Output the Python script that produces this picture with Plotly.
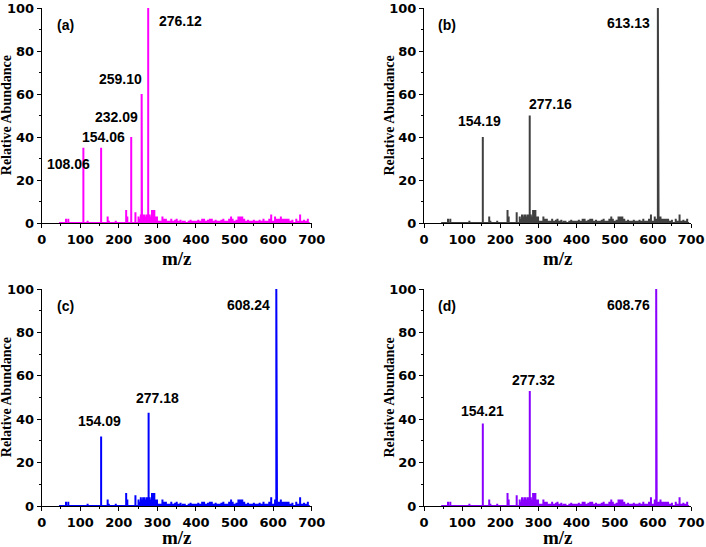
import plotly.graph_objects as go

# ---------------- data ----------------
noise_mz = [63, 69, 119, 171, 174, 192, 219, 222, 243, 251, 254, 257, 260, 263, 266, 269, 272,
            280, 283, 286, 289, 292, 295, 299,
            303, 308, 313, 318, 322, 327, 331, 336, 341, 346,
            350, 355, 360, 366, 371, 376, 381, 386, 391, 396,
            401, 406, 411, 416, 421, 426, 431, 436, 441, 446,
            451, 456, 461, 466, 471, 476, 481, 486, 491, 495,
            500, 505, 510, 515, 520, 525, 530, 535, 540, 545,
            550, 555, 560, 565, 570, 575, 580, 585, 590, 595,
            600, 605, 610, 615, 620, 625, 630, 635, 640, 645,
            650, 655, 660, 665, 670, 675, 680, 685, 690]
noise_int = [2, 2, 1, 3, 1, 1, 6, 3, 5, 3, 2, 4, 3, 4, 4, 3, 4,
             4, 3, 6, 6, 6, 3, 3,
             1, 1, 3, 2, 2, 1, 1, 2, 1, 1.5,
             2, 1, 1.5, 1, 1, 0.5, 1, 1.5, 1, 1,
             1, 1.5, 1, 2, 2, 1, 1.5, 2, 2, 1,
             1.5, 1, 1, 1.5, 2, 1, 1, 2, 3, 2,
             1, 1.5, 3, 3, 3, 2, 1, 1.5, 1, 1,
             1.5, 1, 1, 1.5, 1, 2, 1, 1, 2, 4,
             1, 3, 2, 2, 3, 2, 2, 2, 2, 1,
             1.5, 0.5, 2, 1, 4, 1, 1.5, 1, 2]
assert len(noise_mz) == len(noise_int)

baseline_range = [45, 695]

peaks_a_mz = [108.06, 154.06, 232.09, 259.10, 276.12]
peaks_a_int = [35, 35, 40, 60, 100]
peaks_b_mz = [154.19, 277.16, 613.13]
peaks_b_int = [40, 50, 100]
peaks_c_mz = [154.09, 277.18, 608.24]
peaks_c_int = [32, 43, 100]
peaks_d_mz = [154.21, 277.32, 608.76]
peaks_d_int = [38, 53, 100]

panel_tags = ["(a)", "(b)", "(c)", "(d)"]
x_ticks = [0, 100, 200, 300, 400, 500, 600, 700]
y_ticks = [0, 20, 40, 60, 80, 100]

# ---------------- layout / style ----------------
colors = ["#FF00FF", "#404040", "#0000FF", "#8A00FF"]
W, H = 706, 547
# plot areas in pixels: (x0, x1, ytop, ybottom)
areas = [(41.7, 311.7, 8, 223), (424, 691, 8, 223),
         (41.7, 311.7, 289, 506), (424, 691, 289, 506)]
title_gap = [35, 35, 31, 31]
# label positions (data coords) per panel
label_pos = [
    [(70, 27.5), (160, 39.8), (195, 49.3), (203, 67.1), (361, 93.9)],
    [(146, 47.5), (332, 55.4), (537, 92.8)],
    [(150, 39.3), (301, 49.6), (537, 92.5)],
    [(153, 43.9), (287, 58.0), (537, 92.5)],
]

peaks = [(peaks_a_mz, peaks_a_int), (peaks_b_mz, peaks_b_int),
         (peaks_c_mz, peaks_c_int), (peaks_d_mz, peaks_d_int)]

tick_font = dict(family="DejaVu Sans", size=13, color="black", weight="bold")
lab_font = dict(family="Liberation Sans, Arial", size=14, color="black", weight="bold")
title_font_x = dict(family="Liberation Serif, Times New Roman", size=19, color="black", weight="bold")
title_font_y = dict(family="Liberation Serif, Times New Roman", size=14, color="black", weight="bold")

fig = go.Figure()
annotations = []

for i in range(4):
    pm, pi = peaks[i]
    spec = sorted(list(zip(noise_mz, noise_int)) + list(zip(pm, pi)))
    xs = [baseline_range[0]]
    ys = [0]
    for m, h in spec:
        xs += [m, m, m]
        ys += [0, h, 0]
    xs.append(baseline_range[1])
    ys.append(0)
    sfx = "" if i == 0 else str(i + 1)
    fig.add_trace(go.Scatter(x=xs, y=ys, mode="lines",
                             line=dict(color=colors[i], width=2),
                             xaxis="x" + sfx, yaxis="y" + sfx,
                             showlegend=False, hoverinfo="skip", cliponaxis=False))
    x0, x1, yt, yb = areas[i]
    dom_x = [x0 / W, x1 / W]
    dom_y = [1 - yb / H, 1 - yt / H]
    axis_common = dict(showline=True, linecolor="black", linewidth=1,
                       ticks="outside", ticklen=4, tickcolor="black",
                       showgrid=False, zeroline=False, tickfont=tick_font,
                       automargin=False, ticklabeloverflow="allow")
    fig.layout["xaxis" + sfx] = dict(domain=dom_x, range=[0, 700], tickvals=x_ticks,
                                     anchor="y" + sfx,
                                     minor=dict(ticks="outside", ticklen=2, dtick=50, tickcolor="black"),
                                     **axis_common)
    fig.layout["yaxis" + sfx] = dict(domain=dom_y, range=[0, 100], tickvals=y_ticks,
                                     anchor="x" + sfx,
                                     minor=dict(ticks="outside", ticklen=2, dtick=10, tickcolor="black"),
                                     **axis_common)
    xr = "x" + sfx
    yr = "y" + sfx
    # panel tag
    annotations.append(dict(x=61, y=92.3, xref=xr, yref=yr, text=panel_tags[i],
                            showarrow=False, font=lab_font, xanchor="center", yanchor="middle"))
    for (lx, ly), m in zip(label_pos[i], pm):
        annotations.append(dict(x=lx, y=ly, xref=xr, yref=yr, text=f"{m:.2f}",
                                showarrow=False, font=lab_font, xanchor="center", yanchor="middle"))
    # axis titles
    annotations.append(dict(x=(x0 + x1) / 2 / W, y=1 - (yb + title_gap[i]) / H, xref="paper", yref="paper",
                            text="m/z", showarrow=False, font=title_font_x,
                            xanchor="center", yanchor="middle"))
    annotations.append(dict(x=(x0 - 35) / W, y=1 - (yt + yb) / 2 / H, xref="paper", yref="paper",
                            text="Relative Abundance", showarrow=False, font=title_font_y,
                            textangle=-90, xanchor="center", yanchor="middle"))

fig.update_layout(width=W, height=H, margin=dict(l=0, r=0, t=0, b=0),
                  paper_bgcolor="white", plot_bgcolor="white",
                  annotations=annotations)

fig.write_html("out.html")
